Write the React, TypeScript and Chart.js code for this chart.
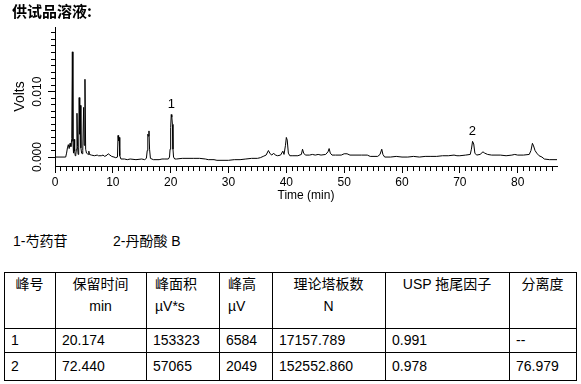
import React, { useEffect, useRef } from 'react';
import { Chart, registerables } from 'chart.js';

Chart.register(...registerables);

// Chromatogram trace (time in min, signal in volts)
const times = [
  0, 1.85, 2.0, 2.15, 2.3, 2.45, 2.6, 2.75, 2.9, 3.0, 3.1, 3.2, 3.3, 3.4, 3.5, 3.6, 3.7, 3.8, 3.9, 4.0,
  4.1, 4.18, 4.28, 4.38, 4.48, 4.6, 4.7, 4.8, 4.95, 5.05, 5.18, 5.3, 5.45, 5.6, 5.75, 5.85, 5.95, 6.3, 6.8, 7.3,
  7.5, 8.0, 8.3, 8.6, 9.0, 9.2, 9.5, 9.8, 10.2, 10.5, 10.8, 10.9, 11.0, 11.1, 11.2, 11.4, 12.0, 12.5, 13.0, 14.0,
  15.0, 15.5, 15.8, 15.95, 16.05, 16.15, 16.25, 16.35, 16.5, 17.0, 18.0, 18.5, 19.0, 19.6, 19.8, 19.9, 20.0, 20.1, 20.2, 20.3,
  20.4, 20.5, 20.7, 21.0, 22.0, 24.0, 25.0, 26.0, 26.5, 27.5, 28.0, 30.0, 31.0, 32.0, 33.0, 34.0, 35.0, 35.5, 36.0, 36.5,
  36.9, 37.2, 37.5, 37.8, 38.1, 38.5, 39.0, 39.4, 39.6, 39.85, 40.0, 40.15, 40.35, 40.6, 41.0, 42.0, 42.6, 42.8, 43.0, 43.3,
  44.0, 44.5, 45.0, 45.5, 46.0, 46.8, 47.2, 47.4, 47.6, 47.9, 48.5, 49.5, 50.0, 50.5, 51.0, 53.0, 54.0, 54.5, 55.8, 56.2,
  56.5, 56.7, 57.0, 58.0, 59.0, 60.0, 61.0, 62.0, 63.0, 64.0, 65.0, 66.0, 67.0, 68.0, 69.0, 69.5, 70.0, 71.0, 71.8, 72.0,
  72.2, 72.4, 72.6, 72.9, 73.5, 74.0, 74.3, 74.8, 75.5, 77.0, 78.0, 79.0, 79.5, 80.0, 81.0, 82.0, 82.3, 82.55, 82.75, 83.0,
  83.3, 83.7, 84.2, 84.6, 85.5, 86.8,
];
const volts = [
  0, 0, 0.0006, 0.0014, 0.0019, 0.0013, 0.0021, 0.0016, 0.0028, 0.0161, 0.0024, 0.0006, 0.0027, 0.0009, 0.0002, 0.0004, 0.0012, 0.0067, 0.0016, 0.0004,
  0.0014, 0.0091, 0.0035, 0.0079, 0.0014, 0.0006, 0.0005, 0.001, 0.0076, 0.0018, 0.0119, 0.0012, 0.0006, 0.0005, 0.0004, 0.0009, 0.0004, 0.0003, 0.0002, 0.0003,
  0.0002, 0.0002, 0.0003, 0.0001, 0.0003, 0.0005, 0.0003, 0.0001, 0.0, -0.0001, 0.0, 0.0033, 0.0025, 0.003, 0.0002, -0.0003, -0.0003, -0.0004, -0.0003, -0.0004,
  -0.0003, -0.0004, -0.0002, 0.001, 0.0035, 0.0032, 0.004, 0.0012, -0.0002, -0.0004, -0.0004, -0.0003, -0.0003, -0.0003, 0.0, 0.0012, 0.0045, 0.0065, 0.0061, 0.005,
  0.0012, 0.0, -0.0003, -0.0003, -0.0002, -0.0002, -0.0002, -0.0003, -0.0004, -0.0004, -0.0005, -0.0005, -0.0004, -0.0004, -0.0003, -0.0002, -0.0002, -0.0001, 0.0001, 0.0003,
  0.001, 0.0005, 0.0003, 0.0006, 0.0003, 0.0002, 0.0003, 0.0009, 0.0004, 0.0018, 0.003, 0.0026, 0.0006, 0.0002, 0.0002, 0.0002, 0.0004, 0.0012, 0.0006, 0.0003,
  0.0003, 0.0004, 0.0003, 0.0004, 0.0003, 0.0004, 0.0008, 0.0013, 0.0006, 0.0003, 0.0003, 0.0003, 0.0005, 0.0005, 0.0003, 0.0003, 0.0003, 0.0001, 0.0001, 0.0004,
  0.0012, 0.0004, 0.0, 0.0, 0.0001, 0.0, 0.0, 0.0001, 0.0, 0.0001, 0.0001, 0.0001, 0.0002, 0.0002, 0.0003, 0.0002, 0.0002, 0.0003, 0.0004, 0.0012,
  0.0024, 0.002, 0.0006, 0.0003, 0.0004, 0.0008, 0.0006, 0.0004, 0.0003, 0.0003, 0.0002, 0.0003, 0.0004, 0.0003, 0.0003, 0.0004, 0.001, 0.0021, 0.0017, 0.001,
  0.0006, 0.0002, 0.0, -0.0003, -0.0004, -0.0004,
];

const peakNames = ['1', '2'];
const peakTimes = [20.1, 72.15];
const peakVolts = [0.0065, 0.0024];

const xTickLabels = ['0', '10', '20', '30', '40', '50', '60', '70', '80'];
const yTickLabels = ['0.000', '0.010'];

const chartTitle = '供试品溶液:';
const legendItems = ['1-芍药苷', '2-丹酚酸 B'];

const tableHeader = [
  ['峰号', ''],
  ['保留时间', 'min'],
  ['峰面积', 'µV*s'],
  ['峰高', 'µV'],
  ['理论塔板数', 'N'],
  ['USP 拖尾因子', ''],
  ['分离度', ''],
];
const tableRows = [
  ['1', '20.174', '153323', '6584', '17157.789', '0.991', '--'],
  ['2', '72.440', '57065', '2049', '152552.860', '0.978', '76.979'],
];

const FONT = "'Liberation Sans', Arial, sans-serif";
const HTML_FONT = "'Liberation Sans', Arial, 'Noto Sans CJK SC', sans-serif";

const colEdges = [4, 55, 146, 219, 272, 385, 509, 576];
const headerAlign = ['center', 'center', 'left', 'left', 'center', 'center', 'center'];
const rowTops = [272, 328, 352, 380];

const yLabel = (v: number) => {
  const k = Math.round(v * 1000);
  if (k % 10 !== 0) return '';
  const s = (k / 1000).toFixed(3);
  return yTickLabels.includes(s) ? s : '';
};
const xLabel = (v: number) => {
  const s = String(Math.round(v));
  return Math.abs(v - Math.round(v)) < 1e-9 && xTickLabels.includes(s) ? s : '';
};

const peakLabelPlugin = {
  id: 'peakLabels',
  afterDatasetsDraw(chart: any) {
    const { ctx, scales } = chart;
    ctx.save();
    ctx.fillStyle = '#000';
    ctx.font = `13px ${FONT}`;
    ctx.textAlign = 'center';
    ctx.textBaseline = 'middle';
    peakNames.forEach((n, i) => {
      const x = scales.x.getPixelForValue(peakTimes[i]);
      const y = scales.y.getPixelForValue(peakVolts[i]);
      ctx.fillText(n, x, y - 10);
    });
    ctx.restore();
  },
};

function ChromChart() {
  const ref = useRef<HTMLCanvasElement>(null);
  useEffect(() => {
    if (!ref.current) return;
    const chart = new Chart(ref.current, {
      type: 'line',
      data: {
        datasets: [
          {
            data: times.map((t, i) => ({ x: t, y: volts[i] })),
            borderColor: '#000',
            borderWidth: 1,
            pointRadius: 0,
            tension: 0,
            fill: false,
          },
        ],
      },
      options: {
        animation: false,
        responsive: false,
        devicePixelRatio: 1,
        layout: { padding: { left: 0, top: 27, right: 24, bottom: 0 } },
        plugins: { legend: { display: false }, tooltip: { enabled: false } },
        scales: {
          x: {
            type: 'linear',
            min: 0,
            max: 86.8,
            afterFit: (s: any) => {
              s.height = 44;
            },
            grid: {
              drawOnChartArea: false,
              tickLength: 7,
              tickColor: '#000',
              tickBorderDash: (c: any) => (xLabel(c.tick.value) ? [] : [4, 100]),
            },
            border: { color: '#000', width: 1 },
            ticks: {
              stepSize: 1,
              autoSkip: false,
              includeBounds: false,
              minRotation: 0,
              maxRotation: 0,
              padding: 2,
              color: '#000',
              font: { family: FONT, size: 12 },
              callback: (v: any) => xLabel(Number(v)),
            },
            title: {
              display: true,
              text: 'Time (min)',
              color: '#000',
              font: { family: FONT, size: 12 },
              padding: { top: 0, bottom: 7 },
            },
          },
          y: {
            type: 'linear',
            min: -0.00137,
            max: 0.0199,
            afterFit: (s: any) => {
              s.width = 55;
            },
            grid: {
              drawOnChartArea: false,
              tickLength: 7,
              tickColor: '#000',
              tickWidth: (c: any) => (c.tick.value < -1e-9 ? 0 : 1),
              tickBorderDash: (c: any) => (yLabel(c.tick.value) ? [] : [0, 3, 4, 100]),
            },
            border: { color: '#000', width: 1 },
            ticks: {
              stepSize: 0.001,
              autoSkip: false,
              includeBounds: false,
              minRotation: 90,
              maxRotation: 90,
              crossAlign: 'center',
              padding: -4.5,
              color: '#000',
              font: { family: FONT, size: 12 },
              callback: (v: any) => yLabel(Number(v)),
            },
            title: {
              display: true,
              text: 'Volts',
              color: '#000',
              font: { family: FONT, size: 14 },
              padding: { top: 12, bottom: 0 },
            },
          },
        },
      } as any,
      plugins: [peakLabelPlugin],
    });
    return () => chart.destroy();
  }, []);
  return (
    <canvas
      ref={ref}
      width={581}
      height={210}
      style={{ position: 'absolute', left: 0, top: 0, width: 581, height: 210 }}
    />
  );
}

export default function App() {
  const cellBase: React.CSSProperties = {
    position: 'absolute',
    boxSizing: 'border-box',
    fontFamily: HTML_FONT,
    fontSize: 14,
    color: '#000',
    whiteSpace: 'nowrap',
  };
  const cells: React.ReactNode[] = [];
  tableHeader.forEach((h, ci) => {
    const left = colEdges[ci];
    const width = colEdges[ci + 1] - left;
    cells.push(
      <div
        key={`h${ci}`}
        style={{
          ...cellBase,
          left,
          top: rowTops[0],
          width,
          height: rowTops[1] - rowTops[0],
          textAlign: headerAlign[ci] as any,
          paddingLeft: headerAlign[ci] === 'left' ? 9 : 0,
          paddingTop: 1,
          lineHeight: '22px',
        }}
      >
        <div>{h[0]}</div>
        <div>{h[1]}</div>
      </div>
    );
  });
  tableRows.forEach((r, ri) => {
    r.forEach((v, ci) => {
      const left = colEdges[ci];
      const width = colEdges[ci + 1] - left;
      const top = rowTops[ri + 1];
      const height = rowTops[ri + 2] - top;
      cells.push(
        <div
          key={`r${ri}c${ci}`}
          style={{
            ...cellBase,
            left,
            top,
            width,
            height,
            paddingLeft: 7,
            lineHeight: `${height}px`,
          }}
        >
          {v}
        </div>
      );
    });
  });
  const lines: React.ReactNode[] = [];
  colEdges.forEach((x, i) =>
    lines.push(
      <div
        key={`v${i}`}
        style={{
          position: 'absolute',
          left: x,
          top: rowTops[0],
          width: 1,
          height: rowTops[rowTops.length - 1] - rowTops[0] + 1,
          background: '#000',
        }}
      />
    )
  );
  rowTops.forEach((y, i) =>
    lines.push(
      <div
        key={`hl${i}`}
        style={{
          position: 'absolute',
          left: colEdges[0],
          top: y,
          width: colEdges[colEdges.length - 1] - colEdges[0] + 1,
          height: 1,
          background: '#000',
        }}
      />
    )
  );
  return (
    <div
      style={{
        position: 'absolute',
        left: 0,
        top: 0,
        width: 581,
        height: 384,
        background: '#fff',
        overflow: 'hidden',
      }}
    >
      <ChromChart />
      <div
        style={{
          position: 'absolute',
          left: 12,
          top: 3,
          fontFamily: "'Noto Sans CJK SC', sans-serif",
          fontWeight: 700,
          fontSize: 15,
          lineHeight: '16px',
          color: '#000',
        }}
      >
        {chartTitle}
      </div>
      <div
        style={{
          position: 'absolute',
          left: 13,
          top: 232,
          fontFamily: HTML_FONT,
          fontSize: 14,
          lineHeight: '18px',
          color: '#000',
          whiteSpace: 'pre',
        }}
      >
        {legendItems[0]}
      </div>
      <div
        style={{
          position: 'absolute',
          left: 113,
          top: 232,
          fontFamily: HTML_FONT,
          fontSize: 14,
          lineHeight: '18px',
          color: '#000',
          whiteSpace: 'pre',
        }}
      >
        {legendItems[1]}
      </div>
      {cells}
      {lines}
    </div>
  );
}
